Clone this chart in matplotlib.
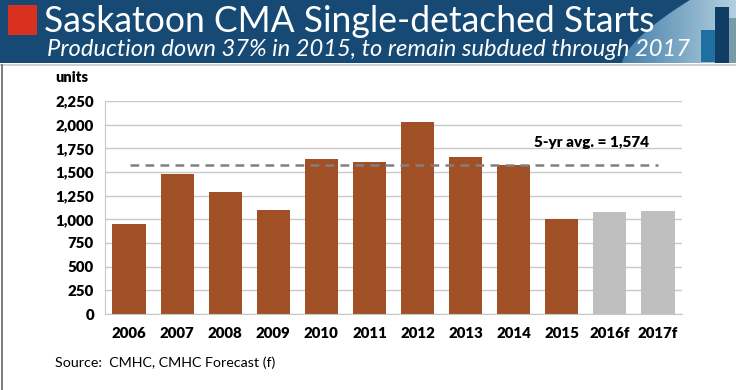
import matplotlib
matplotlib.use("Agg")
import matplotlib.pyplot as plt
import numpy as np
from matplotlib.patches import Rectangle, Polygon

plt.rcParams["font.family"] = ["Lato", "DejaVu Sans"]

years = ["2006", "2007", "2008", "2009", "2010", "2011", "2012", "2013", "2014", "2015", "2016f", "2017f"]
starts = [955, 1480, 1285, 1097, 1637, 1605, 2025, 1658, 1574, 1000, 1078, 1088]
forecast = [False] * 10 + [True] * 2
avg_5yr = 1574
yticks = [0, 250, 500, 750, 1000, 1250, 1500, 1750, 2000, 2250]

W, H = 736, 390
fig = plt.figure(figsize=(W / 100, H / 100), dpi=100)
fig.patch.set_facecolor("white")

# ---- header banner
hb = fig.add_axes([0, 1 - 63 / H, 1, 63 / H])
hb.set_xlim(0, W)
hb.set_ylim(63, 0)
hb.axis("off")
hb.add_patch(Rectangle((0, 0), W, 63, facecolor="#164a74", edgecolor="none"))
# lighter swoosh on the right
t = np.linspace(0, 1, 40)
curve = [(622 + 68 * s ** 1.5, 63 - 63 * s) for s in t]
grad = np.linspace(0, 1, 100).reshape(1, -1)
im = hb.imshow(grad, extent=[600, W, 63, 0], cmap=matplotlib.colors.LinearSegmentedColormap.from_list(
    "sw", ["#2f6f9e", "#b4d0e0"]), aspect="auto", zorder=1)
poly = Polygon(curve + [(W, 0), (W, 63)], closed=True, transform=hb.transData)
im.set_clip_path(poly)
hb.add_patch(Rectangle((701, 30), 14, 32, facecolor="#1f6fa3", edgecolor="none", zorder=2))
hb.add_patch(Rectangle((715, 7), 14, 56, facecolor="#0f3d63", edgecolor="none", zorder=2))
hb.add_patch(Rectangle((729, 18), 7, 45, facecolor="#7a9aa8", edgecolor="none", zorder=2))
hb.add_patch(Rectangle((8, 5), 29, 30, facecolor="#d9301f", edgecolor="none", zorder=2))
hb.text(44, 21, "Saskatoon CMA Single-detached Starts", color="white", fontsize=25.6,
        va="center", ha="left", zorder=3)
hb.text(47, 49, "Production down 37% in 2015, to remain subdued through 2017", color="white",
        fontsize=17.1, style="italic", va="center", ha="left", zorder=3)

# thin frame lines
fig.add_artist(plt.Line2D([0, 1], [1 - 65 / H, 1 - 65 / H], color="#c8c8c8", lw=1.2))
fig.add_artist(plt.Line2D([1.5 / W, 1.5 / W], [0, 1 - 65 / H], color="#666666", lw=1.2))

# ---- chart
ax = fig.add_axes([105 / W, (H - 314) / H, (682 - 105) / W, (314 - 101) / H])
x = np.arange(len(years))
colors = ["#bfbfbf" if f else "#a14f24" for f in forecast]
ax.bar(x, starts, width=0.69, color=colors, zorder=2)
ax.set_xlim(-0.5, len(years) - 0.5)
ax.set_ylim(0, 2250)
ax.set_yticks(yticks)
ax.set_yticklabels([f"{v:,}" for v in yticks])
ax.set_xticks(x)
ax.set_xticklabels(years)
ax.yaxis.grid(True, color="#c8c8c8", lw=1)
ax.set_axisbelow(True)
for s in ["top", "right"]:
    ax.spines[s].set_visible(False)
ax.spines["left"].set_color("#c8c8c8")
ax.spines["bottom"].set_color("#c8c8c8")
ax.tick_params(length=0, labelsize=10.8, pad=8)
for lab in ax.get_xticklabels() + ax.get_yticklabels():
    lab.set_fontweight("heavy")
ax.tick_params(axis="x", pad=9)

ax.plot([0.02, 11.0], [avg_5yr, avg_5yr], ls=(0, (3.5, 2.5)), color="#808080",
        lw=1.8, zorder=3)
ax.text(9.62, avg_5yr + 240, f"5-yr avg. = {avg_5yr:,}", ha="center", va="center",
        fontsize=11, fontweight="heavy")

fig.text(55 / W, 1 - 77 / H, "units", fontsize=10.5, fontweight="heavy", va="center")
fig.text(55 / W, 1 - 363 / H, "Source:  CMHC, CMHC Forecast (f)", fontsize=10.3, va="center")

fig.savefig("out.png", dpi=100, facecolor="white")
